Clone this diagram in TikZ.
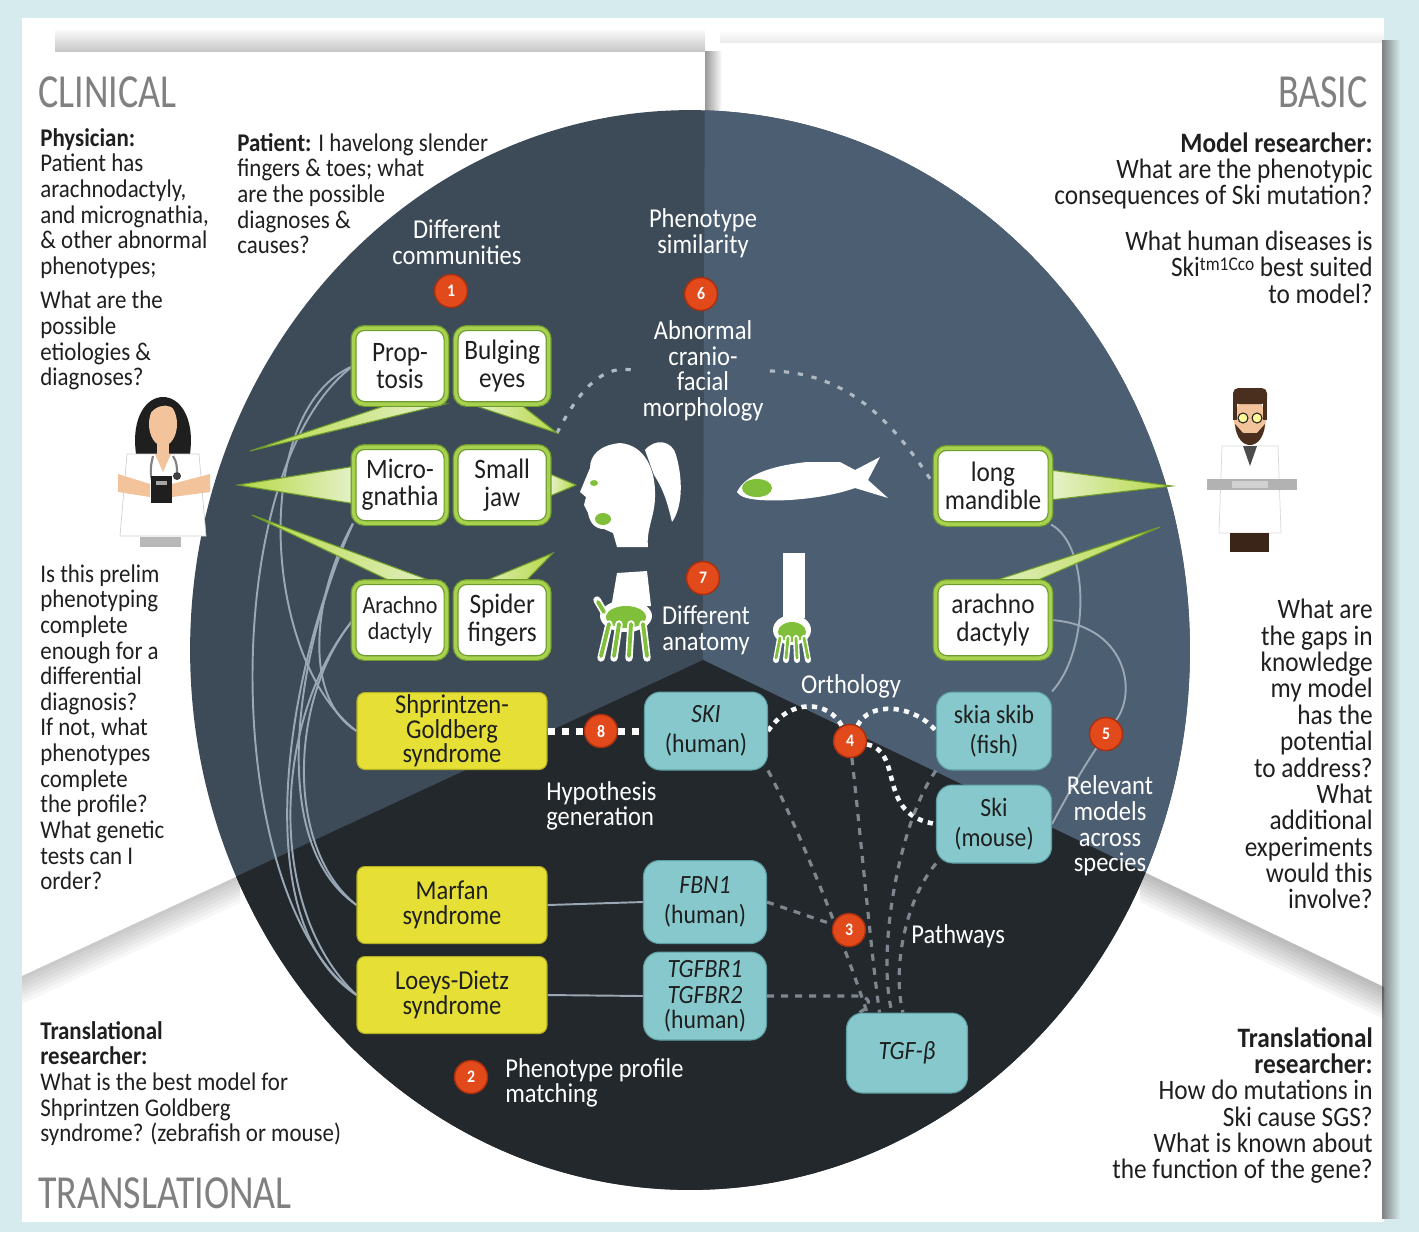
\documentclass[tikz,border=0pt]{standalone}
\usepackage{fontspec}
\setmainfont{Carlito}[FakeStretch=0.9]
\newfontfamily\headfont{Carlito}[FakeStretch=0.8]
\usetikzlibrary{positioning}

\definecolor{pagebg}{HTML}{D5EBED}
\definecolor{clinbg}{HTML}{3D4B59}
\definecolor{basicbg}{HTML}{4C5E71}
\definecolor{transbg}{HTML}{23282C}
\definecolor{leafgreen}{HTML}{6E9B2D}
\definecolor{limegreen}{HTML}{A9D150}
\definecolor{figgreen}{HTML}{7FBF3A}
\definecolor{synyellow}{HTML}{E6E036}
\definecolor{synedge}{HTML}{B5AF22}
\definecolor{genefill}{HTML}{86C8CC}
\definecolor{geneedge}{HTML}{5E9FA4}
\definecolor{markred}{HTML}{E2491B}
\definecolor{markedge}{HTML}{A9300E}
\definecolor{linkgrey}{HTML}{9AA7B5}
\definecolor{pathgrey}{HTML}{7E868F}
\definecolor{skin}{HTML}{F3C39B}
\definecolor{headgrey}{HTML}{808080}
\definecolor{inkblack}{HTML}{1F1F1F}
\definecolor{hairbrown}{HTML}{4A2E1E}

\pgfdeclarelayer{paper}
\pgfdeclarelayer{wires}
\pgfsetlayers{paper,wires,main}

\begin{document}
\begin{tikzpicture}[
    x=0.02cm, y=-0.02cm,
    node distance=0.16cm,
    every node/.style={inner sep=0pt},
    body/.style={
        font=\fontsize{14.5}{14.6}\selectfont,
        text=inkblack,
        align=left,
        anchor=north west
    },
    bodyR/.style={
        font=\fontsize{16}{15}\selectfont,
        text=inkblack,
        align=right,
        anchor=north east
    },
    header/.style={
        font=\headfont\fontsize{27}{27}\selectfont,
        text=headgrey
    },
    ringtext/.style={
        font=\fontsize{15.5}{14.6}\selectfont,
        text=white,
        align=center
    },
    phen/.style={
        rectangle,
        rounded corners=0.22cm,
        fill=white,
        draw=leafgreen,
        double=limegreen,
        double distance=2pt,
        line width=0.7pt,
        minimum width=1.86cm,
        minimum height=1.52cm,
        align=center,
        font=\fontsize{16}{15.6}\selectfont,
        text=inkblack
    },
    syn/.style={
        rectangle,
        rounded corners=0.16cm,
        fill=synyellow,
        draw=synedge,
        line width=0.6pt,
        minimum width=3.8cm,
        minimum height=1.54cm,
        align=center,
        font=\fontsize{15.5}{14}\selectfont,
        text=inkblack
    },
    gene/.style={
        rectangle,
        rounded corners=0.32cm,
        fill=genefill,
        draw=geneedge,
        line width=0.6pt,
        minimum width=2.46cm,
        minimum height=1.56cm,
        align=center,
        font=\fontsize{15}{15}\selectfont,
        text=inkblack
    },
    marker/.style={
        circle,
        fill=markred,
        draw=markedge,
        line width=0.8pt,
        minimum size=0.66cm,
        font=\bfseries\fontsize{10}{10}\selectfont,
        text=white
    },
    link/.style={draw=linkgrey, line width=1.1pt},
    simdots/.style={draw=linkgrey!80!white, line width=1.8pt, dash pattern=on 3pt off 5pt},
    orthodots/.style={draw=white!92!linkgrey, line width=2.6pt, dash pattern=on 3pt off 3pt},
    pathdash/.style={draw=pathgrey, line width=1.8pt, dash pattern=on 4pt off 4pt},
    hypodash/.style={draw=white, line width=4pt, dash pattern=on 4pt off 4pt},
    tailL/.style={left color=limegreen!85!yellow, right color=limegreen!30!white, draw=leafgreen, line width=0.6pt},
    tailR/.style={right color=limegreen!85!yellow, left color=limegreen!30!white, draw=leafgreen, line width=0.6pt},
    figure/.style={fill=white}
]
\useasboundingbox (0,0) rectangle (1419,1232);

% ------------------------------------------------
% Paper sheets and the disc
% ------------------------------------------------

\begin{pgfonlayer}{paper}
\fill[pagebg] (0,0) rectangle (1419,1232);
\fill[white] (22,18) rectangle (1384,1222);
\shade[top color=white, bottom color=black!22] (55,28) rectangle (705,51);
\shade[top color=white, bottom color=black!8] (720,30) rectangle (1384,42);
\shade[left color=black!40, right color=white] (705,51) rectangle (722,118);
\shade[left color=black!50, right color=pagebg] (1382,40) rectangle (1400,1218);
\foreach \w in {4,8,...,28}
    \fill[black, opacity=0.03] (22,976) -- (240,875) -- (240,875+\w) -- (22,976+\w) -- cycle;
\foreach \w in {4,8,...,32}
    \fill[black, opacity=0.035] (1140,870) -- (1384,987) -- (1384,987+\w) -- (1140,870+\w) -- cycle;

\fill[clinbg] (690,650) ellipse [x radius=10cm, y radius=10.8cm];
\begin{scope}
    \clip (690,650) ellipse [x radius=10cm, y radius=10.8cm];
    \fill[basicbg] (705,0) -- (1419,0) -- (1419,1004) -- (703,660) -- cycle;
    \fill[transbg] (703,660) -- (0,986) -- (0,1232) -- (1419,1232) -- (1419,1004) -- cycle;
\end{scope}
\end{pgfonlayer}

% ------------------------------------------------
% Side texts
% ------------------------------------------------

\node[header, anchor=west] (clinical) at (38,92) {CLINICAL};
\node[header, anchor=east] (basic) at (1368,92) {BASIC};
\node[header, anchor=west] (translational) at (38,1193) {TRANSLATIONAL};

\node[body] (physician) at (40,128) {
    \textbf{Physician:}\\
    Patient has\\
    arachnodactyly,\\
    and micrognathia,\\
    \& other abnormal\\
    phenotypes;\\[5pt]
    What are the\\
    possible\\
    etiologies \&\\
    diagnoses?
};

\node[body] (patient) at (237,133) {
    \textbf{Patient:} I havelong slender\\
    fingers \& toes; what\\
    are the possible\\
    diagnoses \&\\
    causes?
};

\node[body] (prelim) at (40,564) {
    Is this prelim\\
    phenotyping\\
    complete\\
    enough for a\\
    differential\\
    diagnosis?\\
    If not, what\\
    phenotypes\\
    complete\\
    the profile?\\
    What genetic\\
    tests can I\\
    order?
};

\node[body] (transL) at (40,1021) {
    \textbf{Translational}\\
    \textbf{researcher:}\\
    What is the best model for\\
    Shprintzen Goldberg\\
    syndrome? (zebrafish or mouse)
};

\node[bodyR] (modeller) at (1373,132) {
    \textbf{Model researcher:}\\
    What are the phenotypic\\
    consequences of Ski mutation?\\[11pt]
    What human diseases is\\
    Ski\raisebox{3.5pt}{\fontsize{11}{11}\selectfont tm1Cco} best suited\\
    to model?
};

\node[bodyR] (gaps) at (1373,599) {
    What are\\
    the gaps in\\
    knowledge\\
    my model\\
    has the\\
    potential\\
    to address?\\
    What\\
    additional\\
    experiments\\
    would this\\
    involve?
};

\node[bodyR] (transR) at (1373,1027) {
    \textbf{Translational}\\
    \textbf{researcher:}\\
    How do mutations in\\
    Ski cause SGS?\\
    What is known about\\
    the function of the gene?
};

% ------------------------------------------------
% Labels inside the disc
% ------------------------------------------------

\node[ringtext] (communities) at (457,242) {Different\\communities};
\node[ringtext] (similarity) at (703,233) {Phenotype\\similarity};
\node[ringtext] (morph) at (703,371) {Abnormal\\cranio-\\facial\\morphology};
\node[ringtext] (anatomy) at (706,630) {Different\\anatomy};
\node[ringtext] (orthology) at (851,686) {Orthology};
\node[ringtext] (relevant) at (1110,826) {Relevant\\models\\across\\species};
\node[ringtext, anchor=west, align=left] (hypothesis) at (546,806) {Hypothesis\\generation};
\node[ringtext, anchor=west] (pathways) at (911,936) {Pathways};
\node[ringtext, anchor=west, align=left] (profile) at (505,1083) {Phenotype profile\\matching};

% ------------------------------------------------
% Phenotype, syndrome and gene boxes
% ------------------------------------------------

\node[phen] (proptosis) at (400,366) {Prop-\\tosis};
\node[phen, right=of proptosis] (bulging) {Bulging\\eyes};
\node[phen] (micro) at (400,485) {Micro-\\gnathia};
\node[phen, right=of micro] (smalljaw) {Small\\jaw};
\node[phen, font=\fontsize{14}{14.6}\selectfont] (arachno) at (400,620) {Arachno\\dactyly};
\node[phen, right=of arachno] (spider) {Spider\\fingers};
\node[phen, minimum width=2.3cm] (mandible) at (993,486) {long\\mandible};
\node[phen, minimum width=2.3cm] (arachnoR) at (993,620) {arachno\\dactyly};

\node[syn] (sgs) at (452,731) {Shprintzen-\\Goldberg\\syndrome};
\node[syn] (marfan) at (452,905) {Marfan\\syndrome};
\node[syn] (loeys) at (452,995) {Loeys-Dietz\\syndrome};

\node[gene] (ski) at (706,731) {\textit{SKI}\\[2pt](human)};
\node[gene, minimum height=1.66cm] (fbn) at (705,902) {\textit{FBN1}\\[2pt](human)};
\node[gene, minimum height=1.76cm, font=\fontsize{15}{15}\selectfont] (tgfbr) at (705,996) {\textit{TGFBR1}\\\textit{TGFBR2}\\[-1pt](human)};
\node[gene, minimum width=2.3cm] (skia) at (994,731) {skia skib\\[2pt](fish)};
\node[gene, minimum width=2.3cm] (mouse) at (994,824) {Ski\\[2pt](mouse)};
\node[gene, minimum width=2.42cm, minimum height=1.6cm] (tgfb) at (907,1053) {\textit{TGF-β}};

% ------------------------------------------------
% Markers
% ------------------------------------------------

\node[marker] (m1) at (451,291) {1};
\node[marker] (m2) at (471,1077) {2};
\node[marker] (m3) at (849,930) {3};
\node[marker] (m4) at (850,741) {4};
\node[marker] (m5) at (1106,734) {5};
\node[marker] (m6) at (701,294) {6};
\node[marker] (m7) at (703,578) {7};
\node[marker] (m8) at (601,731) {8};

\coordinate (eyetip) at (557,433);

% ------------------------------------------------
% Connectors (kept under the boxes)
% ------------------------------------------------

\begin{pgfonlayer}{wires}
% phenotypes to syndromes
\draw[link] (proptosis.west) .. controls (250,410) and (262,660) .. (sgs.west);
\draw[link] (proptosis.west) .. controls (215,470) and (222,900) .. (loeys.west);
\draw[link] (micro.south west) .. controls (310,600) and (305,700) .. (sgs.west);
\draw[link] (micro.south west) .. controls (300,640) and (262,840) .. (marfan.west);
\draw[link] (micro.south west) .. controls (290,660) and (242,920) .. (loeys.west);
\draw[link] (arachno.west) .. controls (288,700) and (286,850) .. (marfan.west);
\draw[link] (arachno.west) .. controls (272,720) and (266,910) .. (loeys.west);

% syndromes to genes
\draw[link] (marfan.east) -- (fbn.west);
\draw[link] (loeys.east) -- (tgfbr.west);
\draw[hypodash] (sgs.east) -- (ski.west);

% model phenotypes to model genes
\draw[link] (mandible.south east) .. controls (1090,545) and (1090,650) .. (skia.north east);
\draw[link] (arachnoR.east) .. controls (1125,625) and (1138,690) .. (m5);
\draw[link] (m5) .. controls (1085,765) and (1070,790) .. (mouse.east);

% phenotype similarity
\draw[simdots] (eyetip) .. controls (580,388) and (605,362) .. ([xshift=-0.12cm]morph.west);
\draw[simdots] ([xshift=0.12cm]morph.east) .. controls (850,372) and (895,425) .. (mandible.west);

% orthology
\draw[orthodots] (ski.east) .. controls (790,698) and (828,700) .. (m4);
\draw[orthodots] (m4) .. controls (870,700) and (915,705) .. (skia.west);
\draw[orthodots] (m4) .. controls (905,752) and (875,815) .. (mouse.west);

% pathways
\draw[pathdash] (ski.south east) .. controls (800,830) and (850,960) .. ([xshift=-0.8cm]tgfb.north);
\draw[pathdash] (m4) .. controls (860,830) and (872,960) .. ([xshift=-0.55cm]tgfb.north);
\draw[pathdash] (skia.south west) .. controls (900,820) and (876,950) .. ([xshift=-0.3cm]tgfb.north);
\draw[pathdash] (mouse.south west) .. controls (905,900) and (892,970) .. ([xshift=-0.08cm]tgfb.north);
\draw[pathdash] (fbn.east) -- (m3);
\draw[pathdash] (tgfbr.east) -- (855,996) .. controls (870,996) and (874,1004) .. ([xshift=-0.95cm]tgfb.north);

% speech tails
\shadedraw[tailL] (250,451) -- (390,404) -- (445,404) -- cycle;
\shadedraw[tailR] (470,404) -- (520,404) -- (eyetip) -- cycle;
\shadedraw[tailL] (238,485) -- (356,466) -- (356,504) -- cycle;
\shadedraw[tailR] (550,474) -- (576,485) -- (550,496) -- cycle;
\shadedraw[tailL] (252,515) -- (445,586) -- (405,588) -- cycle;
\shadedraw[tailR] (470,587) -- (520,587) -- (553,553) -- cycle;
\shadedraw[tailR] (1050,470) -- (1172,486) -- (1050,500) -- cycle;
\shadedraw[tailR] (975,587) -- (1022,587) -- (1160,527) -- cycle;
\end{pgfonlayer}

% ------------------------------------------------
% Physician
% ------------------------------------------------

\fill[inkblack] (136,454) .. controls (126,378) and (200,378) .. (190,454) -- cycle;
\fill[skin] (157,440) rectangle (169,458);
\fill[skin] (163,424) ellipse [x radius=0.28cm, y radius=0.44cm];
\fill[inkblack] (148,416) .. controls (150,394) and (174,392) .. (179,412) .. controls (168,402) and (156,404) .. (148,416) -- cycle;
\filldraw[fill=white, draw=black!18] (127,454) -- (199,454) -- (206,536) -- (120,536) -- cycle;
\fill[skin] (155,454) -- (171,454) -- (163,472) -- cycle;
\draw[black!50, line width=1.2pt] (153,456) .. controls (148,475) and (152,488) .. (160,486);
\draw[black!50, line width=1.2pt] (173,456) .. controls (177,462) and (177,468) .. (177,472);
\fill[black!75] (177,476) circle [radius=0.08cm];
\fill[skin] (118,474) -- (150,484) -- (150,497) -- (118,492) -- cycle;
\fill[skin] (210,474) -- (172,484) -- (172,497) -- (210,492) -- cycle;
\fill[inkblack] (151,476) rectangle (172,503);
\fill[black!35] (156,481) rectangle (167,485);
\fill[black!28] (140,537) rectangle (181,547);

% ------------------------------------------------
% Model researcher
% ------------------------------------------------

\fill[skin] (1250,420) ellipse [x radius=0.32cm, y radius=0.44cm];
\fill[hairbrown, rounded corners=3pt] (1233,388) rectangle (1267,404);
\fill[hairbrown] (1233,398) rectangle (1237,420);
\fill[hairbrown] (1263,398) rectangle (1267,420);
\filldraw[fill=yellow!40, draw=inkblack, line width=0.6pt] (1243,418) circle [radius=0.1cm] (1257,418) circle [radius=0.1cm];
\fill[hairbrown] (1235,424) .. controls (1237,452) and (1263,452) .. (1265,424) -- (1257,433) -- (1243,433) -- cycle;
\filldraw[fill=white, draw=black!15] (1222,446) -- (1278,446) -- (1281,533) -- (1219,533) -- cycle;
\fill[inkblack!80] (1243,446) -- (1257,446) -- (1250,466) -- cycle;
\fill[black!30] (1207,479) rectangle (1297,490);
\fill[black!18] (1232,481) rectangle (1268,488);
\fill[hairbrown!80!black] (1230,533) rectangle (1269,552);

% ------------------------------------------------
% Head, fish and hands
% ------------------------------------------------

\fill[figure] (620,443) .. controls (600,445) and (590,455) .. (590,468)
    -- (585,480) -- (580,492) -- (586,497) -- (584,505) -- (588,513)
    .. controls (590,524) and (596,529) .. (604,529)
    -- (613,533) -- (617,547) -- (648,547)
    .. controls (646,530) and (655,515) .. (655,497)
    .. controls (656,470) and (645,445) .. (620,443) -- cycle;
\fill[figure] (645,450) .. controls (655,438) and (672,440) .. (676,455)
    .. controls (682,475) and (684,505) .. (672,522)
    .. controls (668,505) and (664,490) .. (654,475) -- cycle;
\fill[figgreen] (603,519) ellipse [x radius=0.16cm, y radius=0.12cm];
\fill[figgreen] (594,483) ellipse [x radius=0.08cm, y radius=0.06cm];

\fill[figure] (737,492) .. controls (745,475) and (770,466) .. (807,462)
    -- (840,462) -- (855,470) -- (880,457) -- (868,480) -- (888,498) -- (855,488)
    .. controls (830,497) and (790,502) .. (760,500)
    .. controls (748,499) and (740,497) .. (737,492) -- cycle;
\fill[figgreen] (757,488) ellipse [x radius=0.3cm, y radius=0.18cm];

% human hand
\fill[figure] (617,573) -- (647,571) -- (651,606) -- (611,608) -- cycle;
\fill[figure] (626,616) ellipse [x radius=0.52cm, y radius=0.32cm];
\fill[figgreen] (626,617) ellipse [x radius=0.4cm, y radius=0.22cm];
\foreach \fx/\tx in {609/601, 619/614, 631/629, 643/647}
{
    \draw[white, line width=4.2pt, line cap=round] (\fx,624) -- (\tx,658);
    \draw[figgreen, line width=2.2pt, line cap=round] (\fx,624) -- (\tx,656);
}
\draw[white, line width=4.2pt, line cap=round] (604,612) -- (597,600);
\draw[figgreen, line width=2.2pt, line cap=round] (604,612) -- (598,602);

% mouse paw
\fill[figure] (783,553) rectangle (805,618);
\fill[figure] (792,630) ellipse [x radius=0.38cm, y radius=0.3cm];
\fill[figgreen] (792,632) ellipse [x radius=0.28cm, y radius=0.2cm];
\foreach \fx/\tx in {780/776, 788/786, 796/797, 804/808}
{
    \draw[white, line width=3.4pt, line cap=round] (\fx,638) -- (\tx,660);
    \draw[figgreen, line width=1.6pt, line cap=round] (\fx,638) -- (\tx,658);
}

\end{tikzpicture}
\end{document}
